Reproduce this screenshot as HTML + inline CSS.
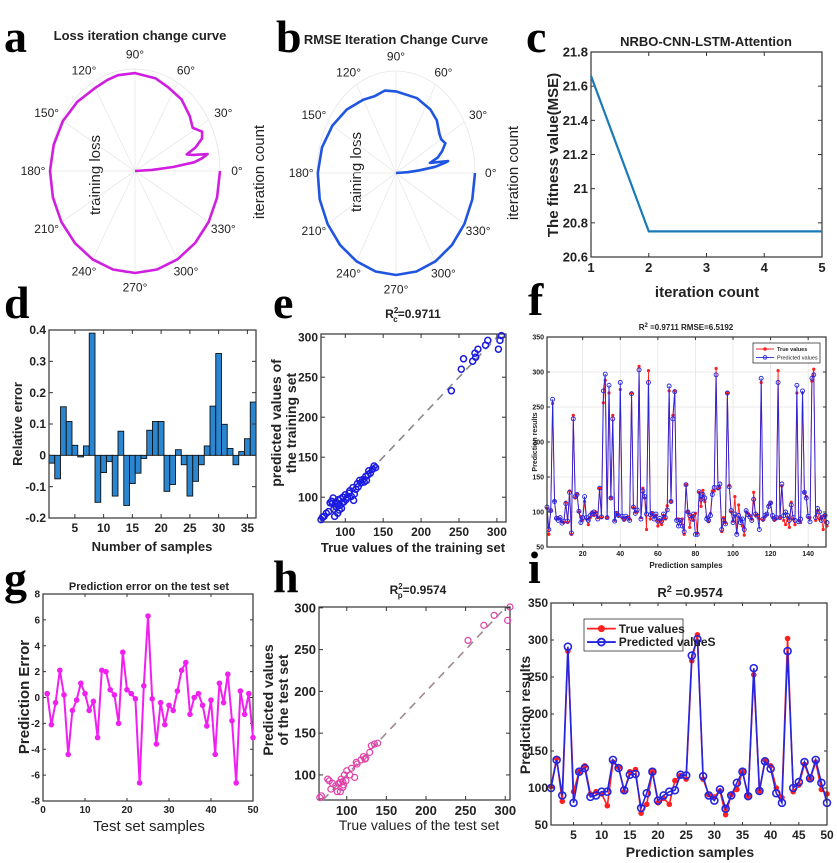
<!DOCTYPE html>
<html><head><meta charset="utf-8"><style>
html,body{margin:0;padding:0;background:#fff;}
svg{display:block;font-family:"Liberation Sans",sans-serif;}
.lt{font-family:"Liberation Serif",serif;font-weight:bold;font-size:46px;fill:#000;}
.b{font-weight:bold;fill:#222;}
</style></head><body>
<svg id="fig" width="837" height="863" viewBox="0 0 837 863" xmlns="http://www.w3.org/2000/svg">
<rect width="837" height="863" fill="#fff"/>
<text class="lt" x="4" y="52">a</text>
<text class="lt" x="276" y="52">b</text>
<text class="lt" x="526" y="52">c</text>
<text class="lt" x="4" y="318">d</text>
<text class="lt" x="273" y="318">e</text>
<text class="lt" x="528" y="315">f</text>
<text class="lt" x="4" y="594">g</text>
<text class="lt" x="273" y="592">h</text>
<text class="lt" x="528" y="583">i</text>

<text class="b" x="140" y="40" font-size="13" text-anchor="middle">Loss iteration change curve</text>
<text class="b" x="396" y="44" font-size="13" text-anchor="middle">RMSE Iteration Change Curve</text>
<text class="b" x="706" y="46" font-size="13" text-anchor="middle">NRBO-CNN-LSTM-Attention</text>
<text x="100" y="175" font-size="15" fill="#222" text-anchor="middle" transform="rotate(-90 100 175)">training loss</text>
<text x="264" y="172" font-size="15" fill="#222" text-anchor="middle" transform="rotate(-90 264 172)">iteration count</text>
<text x="361" y="172" font-size="15" fill="#222" text-anchor="middle" transform="rotate(-90 361 172)">training loss</text>
<text x="518" y="173" font-size="15" fill="#222" text-anchor="middle" transform="rotate(-90 518 173)">iteration count</text>
<text class="b" x="558" y="155" font-size="15" text-anchor="middle" transform="rotate(-90 558 155)">The fitness value(MSE)</text>
<text class="b" x="707" y="297" font-size="15" text-anchor="middle">iteration count</text>
<text class="b" x="152" y="551" font-size="13" text-anchor="middle">Number of samples</text>
<text class="b" x="22" y="424" font-size="13" text-anchor="middle" transform="rotate(-90 22 424)">Relative error</text>
<text class="b" x="413" y="318" font-size="12" text-anchor="middle">R<tspan font-size="8" dy="-5">2</tspan><tspan font-size="8" dx="-5" dy="9">c</tspan><tspan dy="-4">=0.9711</tspan></text>
<text class="b" x="281" y="423" font-size="14" text-anchor="middle" transform="rotate(-90 281 423)">predicted values of</text>
<text class="b" x="296" y="423" font-size="14" text-anchor="middle" transform="rotate(-90 296 423)">the training set</text>
<text class="b" x="413" y="552" font-size="13" text-anchor="middle">True values of the training set</text>
<text class="b" x="686" y="330" font-size="8" text-anchor="middle">R<tspan font-size="6" dy="-3">2</tspan><tspan dy="3"> =0.9711 RMSE=6.5192</tspan></text>
<text class="b" x="537" y="442" font-size="7" text-anchor="middle" transform="rotate(-90 537 442)">Prediction results</text>
<text class="b" x="686" y="568" font-size="8" text-anchor="middle">Prediction samples</text>
<text class="b" x="149" y="590" font-size="11" text-anchor="middle">Prediction error on the test set</text>
<text class="b" x="29" y="697" font-size="15" text-anchor="middle" transform="rotate(-90 29 697)">Prediction Error</text>
<text x="149" y="831" font-size="15" fill="#222" text-anchor="middle">Test set samples</text>
<text class="b" x="418" y="594" font-size="12" text-anchor="middle">R<tspan font-size="8" dy="-5">2</tspan><tspan font-size="8" dx="-5" dy="9">p</tspan><tspan dy="-4">=0.9574</tspan></text>
<text class="b" x="273" y="700" font-size="14" text-anchor="middle" transform="rotate(-90 273 700)">Predicted values</text>
<text class="b" x="288" y="700" font-size="14" text-anchor="middle" transform="rotate(-90 288 700)">of the test set</text>
<text x="419" y="830" font-size="14" fill="#222" text-anchor="middle">True values of the test set</text>
<text class="b" x="690" y="597" font-size="13" text-anchor="middle">R<tspan font-size="9" dy="-5">2</tspan><tspan dy="5"> =0.9574</tspan></text>
<text class="b" x="530" y="715" font-size="14" text-anchor="middle" transform="rotate(-90 530 715)">Prediction results</text>
<text class="b" x="690" y="857" font-size="14" text-anchor="middle">Prediction samples</text>
</svg>
<script>
// ---- data ----
const polarThetaA=[0,3,5,7,9,11,13,15,18,22,26,32,40,52,65,75,90,102,110,120,135,150,165,180,195,210,225,240,255,270,285,300,315,330,345,360];
const polarRA=[0,0.2,0.45,0.7,0.8,0.87,0.7,0.63,0.75,0.85,0.88,0.8,0.84,0.89,0.91,0.94,0.96,0.96,0.95,0.94,0.96,0.98,0.99,1,1,1,1,1,1,1,1,1,1,1,1,1];
const polarThetaB=[0,3,5,7,9,10,12,13,16,20,25,30,35,45,55,70,90,100,110,120,135,150,165,180,195,210,225,240,255,270,285,300,315,330,345,360];
const polarRB=[0,0.15,0.3,0.5,0.62,0.67,0.5,0.44,0.55,0.62,0.69,0.66,0.67,0.73,0.76,0.78,0.8,0.82,0.8,0.83,0.88,0.93,0.97,0.99,1,1,1,1,1,1,1,1,1,1,1,1];
const polarAngles=[0,30,60,90,120,150,180,210,240,270,300,330];
const cIter=[1,2,3,4,5];
const cFitness=[21.66,20.75,20.75,20.75,20.75];
const cYTicks=[20.6,20.8,21,21.2,21.4,21.6,21.8];
const cYLabels=["20.6","20.8","21","21.2","21.4","21.6","21.8"];
const dErr=[-0.025,-0.075,0.155,0.108,0.032,-0.005,0.03,0.39,-0.15,-0.055,-0.02,-0.13,0.077,-0.16,-0.09,-0.057,-0.01,0.08,0.108,0.108,-0.115,-0.093,0.018,-0.03,-0.13,-0.083,-0.03,0.03,0.157,0.325,0.099,0.022,-0.03,0.012,0.053,0.17];
const dYTicks=[-0.2,-0.1,0,0.1,0.2,0.3,0.4];
const dYLabels=["-0.2","-0.1","0","0.1","0.2","0.3","0.4"];
const dXTicks=[5,10,15,20,25,30,35];
const eTrue=[68,70,72,75,78,80,82,84,85,86,88,89,90,91,92,93,94,95,96,97,98,100,101,103,105,106,108,110,111,112,114,116,117,119,121,123,125,127,128,130,131,133,136,138,140,83,87,240,253,256,268,271,272,275,285,288,302,304,306];
const ePred=[72,75,76,80,82,93,95,99,85,76,88,92,80,97,84,90,98,86,93,100,94,103,97,100,105,108,101,112,96,104,110,117,113,121,118,122,119,126,121,128,133,130,135,139,137,92,94,233,260,273,270,280,275,285,290,296,285,296,302];
const eTicks=[100,150,200,250,300];
const fTrue=[105,68,102,255,116,90,92,90,86,85,114,85,130,68,238,120,126,100,93,88,115,90,82,92,100,95,100,92,134,92,256,288,92,270,120,238,88,99,95,275,92,88,92,93,90,270,106,100,100,308,92,134,120,75,302,90,98,93,95,80,86,82,95,90,109,273,115,238,273,90,90,86,90,68,139,100,78,95,88,98,70,128,108,131,115,93,86,98,130,130,305,133,135,72,92,85,270,138,100,87,122,70,110,90,80,67,100,98,95,90,128,95,96,90,285,88,93,96,110,113,92,88,90,302,92,137,88,82,92,78,114,90,82,270,88,85,270,128,122,92,92,287,304,88,102,90,93,75,95,80];
const fPred=[107,75,102,261,115,91,88,92,84,87,112,87,128,70,233,122,125,101,85,92,122,92,88,95,98,100,97,90,134,93,273,297,92,281,120,233,87,98,95,285,94,90,94,91,88,269,107,98,103,303,90,130,122,97,285,96,98,90,97,87,91,87,97,92,103,280,115,233,272,88,80,88,80,72,139,100,95,90,97,68,68,129,118,125,120,90,88,95,125,135,296,135,140,75,88,83,270,136,102,85,97,68,95,85,90,75,102,96,93,88,118,97,94,75,291,90,95,97,108,113,95,90,92,285,92,140,95,100,95,88,110,92,88,281,86,90,273,128,120,94,86,291,296,92,105,100,88,93,95,85];
const fYTicks=[50,100,150,200,250,300,350];
const fXTicks=[20,40,60,80,100,120,140];
const gErr=[0.3,-2.1,-0.4,2.1,0.2,-4.4,-1.0,-0.2,1.1,0.3,-1.0,-0.3,-3.1,2.1,2.0,0.6,0.2,-2.0,3.5,0.6,0.3,-0.1,-6.6,0.9,6.3,-0.1,-3.6,-0.4,-2.1,-0.6,-1.0,0.5,2.1,2.7,-1.3,0.0,0.3,-0.6,-2.2,-0.2,-4.4,1.1,-0.4,1.8,-1.8,-6.6,0.5,-1.3,0.3,-3.1];
const gYTicks=[-8,-6,-4,-2,0,2,4,6,8];
const gXTicks=[0,10,20,30,40,50];
const hTrue=[66,68,76,78,80,82,86,88,90,92,93,95,96,97,99,100,104,106,110,112,113,118,121,123,124,129,131,135,139,253,273,286,303,306,95,92];
const hPred=[73,75,95,93,83,90,87,80,90,80,95,85,88,100,93,105,100,108,97,115,113,118,122,119,120,127,135,137,138,261,279,291,285,301,92,91];
const hTicks=[100,150,200,250,300];
const iTrue=[102,140,82,285,95,122,130,92,95,92,76,135,128,95,122,125,66,78,122,80,86,78,110,117,112,272,307,112,91,88,96,64,91,98,122,89,253,96,138,130,100,87,302,95,104,132,112,135,98,92];
const iPred=[100,138,90,291,80,122,127,88,90,95,95,138,127,97,118,119,73,93,122,83,90,95,97,118,117,279,301,116,90,83,98,72,90,107,122,89,262,96,136,126,93,80,285,100,108,135,113,138,107,80];
const iYTicks=[50,100,150,200,250,300,350];
const iXTicks=[5,10,15,20,25,30,35,40,45,50];

// ---- helpers ----
const NS="http://www.w3.org/2000/svg";
const svg=document.getElementById('fig');
function mk(tag,parent){const e=document.createElementNS(NS,tag);parent.appendChild(e);return e;}
function lin(d0,d1,r0,r1){return v=>r0+(v-d0)*(r1-r0)/(d1-d0);}
function grp(name){const g=mk('g',svg);return g;}
function box(g,x0,y0,x1,y1,name){
  const r=mk('rect',g);r.setAttribute('x',x0);r.setAttribute('y',y0);r.setAttribute('width',x1-x0);r.setAttribute('height',y1-y0);
  r.setAttribute('fill','none');r.setAttribute('stroke','#333');r.setAttribute('stroke-width','1.2');
  
  
}
function tline(g,x1,y1,x2,y2,st,w){const l=mk('line',g);l.setAttribute('x1',x1);l.setAttribute('y1',y1);l.setAttribute('x2',x2);l.setAttribute('y2',y2);l.setAttribute('stroke',st);l.setAttribute('stroke-width',w);return l;}
function txt(g,x,y,s,fs,anchor,bold){const t=mk('text',g);t.setAttribute('x',x);t.setAttribute('y',y);t.setAttribute('font-size',fs);t.setAttribute('text-anchor',anchor);t.setAttribute('fill','#222');if(bold)t.setAttribute('font-weight','bold');t.textContent=s;return t;}
function xTicks(g,ticks,labels,sx,y0,y1,fs,name,len){
  ticks.forEach((v,i)=>{const x=sx(v);tline(g,x,y1,x,y1-len,'#333',1);tline(g,x,y0,x,y0+len,'#333',1);
    const t=txt(g,x,y1+fs+2,labels?labels[i]:String(v),fs,'middle',true);
    
    });
}
function yTicks(g,ticks,labels,sy,x0,x1,fs,name,len){
  ticks.forEach((v,i)=>{const y=sy(v);tline(g,x0,y,x0+len,y,'#333',1);tline(g,x1,y,x1-len,y,'#333',1);
    const t=txt(g,x0-3,y+fs*0.35,labels?labels[i]:String(v),fs,'end',true);
    
    });
}

// ---- polar a, b ----
function polar(name,cx,cy,rx,ry,th,rr,color){
  const g=grp(name);
  const el=mk('ellipse',g);el.setAttribute('cx',cx);el.setAttribute('cy',cy);el.setAttribute('rx',rx);el.setAttribute('ry',ry);el.setAttribute('fill','none');el.setAttribute('stroke','#e6e6e6');el.setAttribute('stroke-width','0.8');
  
  
  polarAngles.forEach(a=>{const rad=a*Math.PI/180;
    const l=tline(g,cx,cy,cx+rx*Math.cos(rad),cy-ry*Math.sin(rad),'#e8e8e8',0.8);
    
    
    const t=txt(g,cx+rx*1.2*Math.cos(rad),cy-ry*1.14*Math.sin(rad)+4,a+'°',12,'middle',false);
    
    });
  let d='';th.forEach((a,i)=>{const rad=a*Math.PI/180;d+=(i?'L':'M')+(cx+rr[i]*rx*Math.cos(rad)).toFixed(1)+','+(cy-rr[i]*ry*Math.sin(rad)).toFixed(1);});
  const p=mk('path',g);p.setAttribute('d',d);p.setAttribute('fill','none');p.setAttribute('stroke',color);p.setAttribute('stroke-width','2.6');p.setAttribute('stroke-linejoin','round');
  
  
}
polar('polar-chart-a',135,171,85,102,polarThetaA,polarRA,'#d01ee0');
polar('polar-chart-b',396,173,79,102,polarThetaB,polarRB,'#1f55e0');

// ---- c ----
(function(){const g=grp('chart-c');const X0=591,X1=822,Y0=52,Y1=257;
 const sx=lin(1,5,X0,X1),sy=lin(20.6,21.8,Y1,Y0);
 box(g,X0,Y0,X1,Y1,'c-plot-area');
 xTicks(g,cIter,null,sx,Y0,Y1,13,'c-x-tick',4);
 yTicks(g,cYTicks,cYLabels,sy,X0,X1,13,'c-y-tick',4);
 const p=mk('polyline',g);p.setAttribute('points',cIter.map((v,i)=>sx(v)+','+sy(cFitness[i])).join(' '));
 p.setAttribute('fill','none');p.setAttribute('stroke','#1a7ab8');p.setAttribute('stroke-width','2.2');
 
 
})();

// ---- d ----
(function(){const g=grp('chart-d');const X0=49,X1=256,Y0=330,Y1=518;
 const sx=lin(0.5,36.5,X0,X1),sy=lin(-0.2,0.4,Y1,Y0);
 dErr.forEach((v,i)=>{const r=mk('rect',g);const xa=sx(i+0.5),xb=sx(i+1.5);
  r.setAttribute('x',xa);r.setAttribute('width',Math.min(xb,X1)-xa);r.setAttribute('y',Math.min(sy(v),sy(0)));r.setAttribute('height',Math.abs(sy(v)-sy(0)));
  r.setAttribute('fill','#2a86d0');r.setAttribute('stroke','#111');r.setAttribute('stroke-width','0.9');
  
  });
 box(g,X0,Y0,X1,Y1,'d-plot-area');
 xTicks(g,dXTicks,null,sx,Y0,Y1,12,'d-x-tick',4);
 yTicks(g,dYTicks,dYLabels,sy,X0,X1,12,'d-y-tick',4);
})();

// ---- scatter helper ----
function scatter(name,X0,X1,Y0,Y1,xd,yd,xs,ys,ticks,color,lineColor,r,sw,tickFs){
 const g=grp(name);const sx=lin(xd[0],xd[1],X0,X1),sy=lin(yd[0],yd[1],Y1,Y0);
 box(g,X0,Y0,X1,Y1,name+'-plot-area');
 const lo=Math.max(xd[0],yd[0]),hi=Math.min(xd[1],yd[1]);
 const l=tline(g,sx(lo),sy(lo),sx(hi),sy(hi),lineColor,1.6);l.setAttribute('stroke-dasharray','8 6');
 
 
 xs.forEach((v,i)=>{const c=mk('circle',g);c.setAttribute('cx',sx(v));c.setAttribute('cy',sy(ys[i]));c.setAttribute('r',r);c.setAttribute('fill','none');c.setAttribute('stroke',color);c.setAttribute('stroke-width',sw);
  
  });
 xTicks(g,ticks,null,sx,Y0,Y1,tickFs,name+'-x-tick',4);
 yTicks(g,ticks,null,sy,X0,X1,tickFs,name+'-y-tick',4);
}
scatter('chart-e',321,506,334,522,[68,312],[69,304],eTrue,ePred,eTicks,'#1a1ae0','#888',3,1.5,12);
scatter('chart-h',319,510,607,800,[65,306],[70,301],hTrue,hPred,hTicks,'#e040a8','#a08890',3,1.2,13);

// ---- line chart helper (f, i) ----
function trueVsPred(name,X0,X1,Y0,Y1,xd,yd,tv,pv,yt,xt,fs,mr,lw,grid){
 const g=grp(name);const sx=lin(xd[0],xd[1],X0,X1),sy=lin(yd[0],yd[1],Y1,Y0);
 if(grid){yt.forEach(v=>tline(g,X0,sy(v),X1,sy(v),'#e2e2e2',0.7));xt.forEach(v=>tline(g,sx(v),Y0,sx(v),Y1,'#e2e2e2',0.7));}
 const pt=mk('polyline',g);pt.setAttribute('points',tv.map((v,i)=>sx(i+1)+','+sy(v)).join(' '));pt.setAttribute('fill','none');pt.setAttribute('stroke','#ff2020');pt.setAttribute('stroke-width',lw);
 
 
 tv.forEach((v,i)=>{const c=mk('circle',g);c.setAttribute('cx',sx(i+1));c.setAttribute('cy',sy(v));c.setAttribute('r',mr*0.8);c.setAttribute('fill','#ff2020');
  
  });
 const pp=mk('polyline',g);pp.setAttribute('points',pv.map((v,i)=>sx(i+1)+','+sy(v)).join(' '));pp.setAttribute('fill','none');pp.setAttribute('stroke','#2525e0');pp.setAttribute('stroke-width',lw);
 
 
 pv.forEach((v,i)=>{const c=mk('circle',g);c.setAttribute('cx',sx(i+1));c.setAttribute('cy',sy(v));c.setAttribute('r',mr);c.setAttribute('fill','none');c.setAttribute('stroke','#2525e0');c.setAttribute('stroke-width',lw);
  
  });
 box(g,X0,Y0,X1,Y1,name+'-plot-area');
 xTicks(g,xt,null,sx,Y0,Y1,fs,name+'-x-tick',3);
 yTicks(g,yt,null,sy,X0,X1,fs,name+'-y-tick',3);
 return g;
}
const gf=trueVsPred('chart-f',547,826,337,547,[1,149.5],[50,350],fTrue,fPred,fYTicks,fXTicks,7,2,0.9,true);
const gi=trueVsPred('chart-i',551,827,603,825,[1,50],[50,350],iTrue,iPred,iYTicks,iXTicks,12,3.5,1.6,false);

function legend(g,x,y,w,h,fs,lw,mr,labels){
 const r=mk('rect',g);r.setAttribute('x',x);r.setAttribute('y',y);r.setAttribute('width',w);r.setAttribute('height',h);r.setAttribute('fill','#fff');r.setAttribute('stroke','#333');r.setAttribute('stroke-width','0.8');
 
 
 const cols=['#ff2020','#2525e0'];
 [0,1].forEach(k=>{const yy=y+h*(0.3+0.42*k);const ll=h*0.9;
  tline(g,x+3,yy,x+3+ll,yy,cols[k],lw);
  const c=mk('circle',g);c.setAttribute('cx',x+3+ll/2);c.setAttribute('cy',yy);c.setAttribute('r',mr);
  if(k==0){c.setAttribute('fill',cols[0]);}else{c.setAttribute('fill','none');c.setAttribute('stroke',cols[1]);c.setAttribute('stroke-width',lw);}
  const t=txt(g,x+6+ll,yy+fs*0.35,labels[k],fs,'start',k==0||fs>9);
  
  });
}
legend(gf,753,343,67,20,5.5,0.9,1.8,['True values','Predicted values']);
legend(gi,584,619,99,32,12,1.8,3.5,['True values','Predicted valueS']);

// ---- g ----
(function(){const g=grp('chart-g');const X0=43,X1=253,Y0=594,Y1=801;
 const sx=lin(0,50,X0,X1),sy=lin(-8,8,Y1,Y0);
 box(g,X0,Y0,X1,Y1,'g-plot-area');
 xTicks(g,gXTicks,null,sx,Y0,Y1,10,'g-x-tick',3);
 yTicks(g,gYTicks,null,sy,X0,X1,10,'g-y-tick',3);
 const p=mk('polyline',g);p.setAttribute('points',gErr.map((v,i)=>sx(i+1)+','+sy(v)).join(' '));p.setAttribute('fill','none');p.setAttribute('stroke','#f020f0');p.setAttribute('stroke-width','2');
 
 
 gErr.forEach((v,i)=>{const c=mk('circle',g);c.setAttribute('cx',sx(i+1));c.setAttribute('cy',sy(v));c.setAttribute('r',2.8);c.setAttribute('fill','#f020f0');
  
  });
})();
</script>
</body></html>
